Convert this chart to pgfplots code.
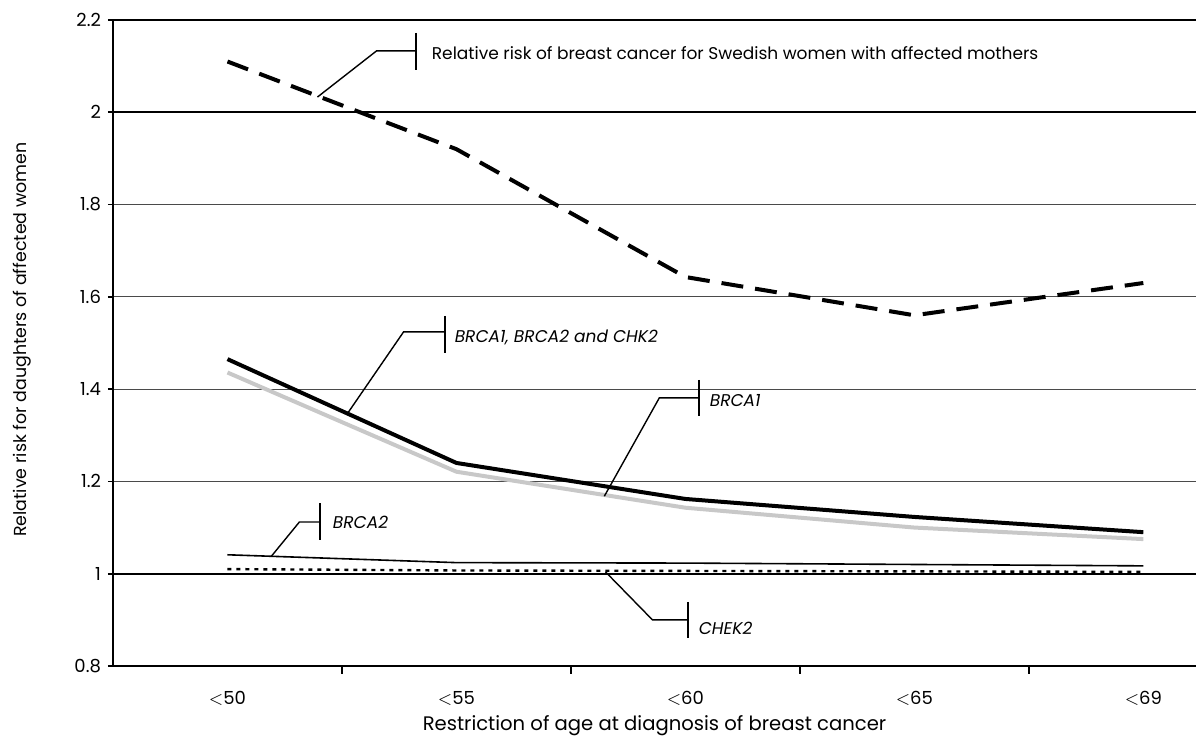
\documentclass[border=0pt]{standalone}
\usepackage{fontspec}
\setmainfont{Poppins}
\usepackage{pgfplots}
\pgfplotsset{compat=1.18}
\definecolor{lightline}{HTML}{C8C8C8}
\definecolor{thingrid}{HTML}{4A4A4A}

\begin{document}
\begin{tikzpicture}
\begin{axis}[
    name=ax,
    scale only axis,
    width=541.5pt, height=323pt,
    xmin=-0.5, xmax=4.23,
    ymin=0.8, ymax=2.2,
    axis x line=bottom, axis y line=left,
    axis line style={-, line width=1pt, black},
    tick align=outside,
    xtick={0,...,4},
    xticklabels={$<$50,$<$55,$<$60,$<$65,$<$69},
    major x tick style={draw=none},
    minor xtick={0.5,1.5,2.5,3.5},
    minor x tick style={black, line width=1pt},
    minor tick length=4pt,
    major tick length=2.5pt,
    ytick={0.8,1,...,2.2},
    y tick style={black, line width=0.8pt},
    ymajorgrids,
    major grid style={thingrid, line width=0.5pt},
    extra y ticks={1,2,2.2},
    extra y tick labels={},
    extra y tick style={grid=major, major grid style={black, line width=1.1pt}, major tick length=0pt},
    /pgf/number format/assume math mode=true,
    ticklabel style={font=\fontsize{9}{10}\selectfont},
    xticklabel style={yshift=-6.5pt},
    xlabel={Restriction of age at diagnosis of breast cancer},
    ylabel={Relative risk for daughters of affected women},
    xlabel style={font=\fontsize{9.8}{11}\selectfont, at={(axis description cs:0.5,-0.092)}, anchor=center},
    ylabel style={font=\fontsize{8.7}{10}\selectfont, at={(axis description cs:-0.084,0.505)}, anchor=center, rotate=0},
    clip=false,
]
% BRCA1
\addplot[lightline, line width=2pt] coordinates {(0,1.436) (1,1.221) (2,1.143) (3,1.100) (4,1.075)};
% BRCA1, BRCA2 and CHK2
\addplot[black, line width=2pt] coordinates {(0,1.465) (1,1.240) (2,1.162) (3,1.123) (4,1.090)};
% Swedish women with affected mothers
\addplot[black, line width=2pt, dash pattern=on 11pt off 6pt] coordinates {(0,2.11) (1,1.92) (2,1.643) (3,1.56) (4,1.63)};
% BRCA2
\addplot[black, line width=0.8pt] coordinates {(0,1.041) (1,1.024) (2,1.023) (3,1.020) (4,1.017)};
% CHEK2
\addplot[black, line width=1.2pt, dash pattern=on 2pt off 2.5pt] coordinates {(0,1.010) (1,1.007) (2,1.006) (3,1.005) (4,1.004)};

% annotations
\draw[line width=0.7pt] (axis cs:0.393,2.033) -- (axis cs:0.651,2.133) -- (axis cs:0.825,2.133);
\draw[line width=1pt] (axis cs:0.825,2.172) -- (axis cs:0.825,2.092);
\node[anchor=west, inner sep=0pt, font=\fontsize{8.5}{10}\selectfont] at (axis cs:0.891,2.129) {Relative risk of breast cancer for Swedish women with affected mothers};

\draw[line width=0.7pt] (axis cs:0.528,1.350) -- (axis cs:0.769,1.524) -- (axis cs:0.948,1.524);
\draw[line width=1pt] (axis cs:0.948,1.559) -- (axis cs:0.948,1.478);
\node[anchor=west, inner sep=0pt, font=\fontsize{8.5}{10}\selectfont\itshape] at (axis cs:0.991,1.511) {BRCA1, BRCA2 and CHK2};

\draw[line width=0.7pt] (axis cs:1.646,1.168) -- (axis cs:1.886,1.381) -- (axis cs:2.061,1.381);
\draw[line width=1pt] (axis cs:2.061,1.420) -- (axis cs:2.061,1.342);
\node[anchor=west, inner sep=0pt, font=\fontsize{8.5}{10}\selectfont\itshape] at (axis cs:2.105,1.375) {BRCA1};

\draw[line width=0.7pt] (axis cs:0.192,1.038) -- (axis cs:0.314,1.112) -- (axis cs:0.406,1.112);
\draw[line width=1pt] (axis cs:0.406,1.153) -- (axis cs:0.406,1.073);
\node[anchor=west, inner sep=0pt, font=\fontsize{8.5}{10}\selectfont\itshape] at (axis cs:0.459,1.112) {BRCA2};

\draw[line width=0.7pt] (axis cs:1.651,1.004) -- (axis cs:1.856,0.900) -- (axis cs:2.013,0.900);
\draw[line width=1pt] (axis cs:2.013,0.939) -- (axis cs:2.013,0.861);
\node[anchor=west, inner sep=0pt, font=\fontsize{8.5}{10}\selectfont\itshape] at (axis cs:2.057,0.882) {CHEK2};
\end{axis}
\pgfresetboundingbox
\path[use as bounding box] ([xshift=-56.5pt,yshift=-40.5pt]ax.south west) rectangle ([yshift=10pt]ax.north east);
\end{tikzpicture}
\end{document}
